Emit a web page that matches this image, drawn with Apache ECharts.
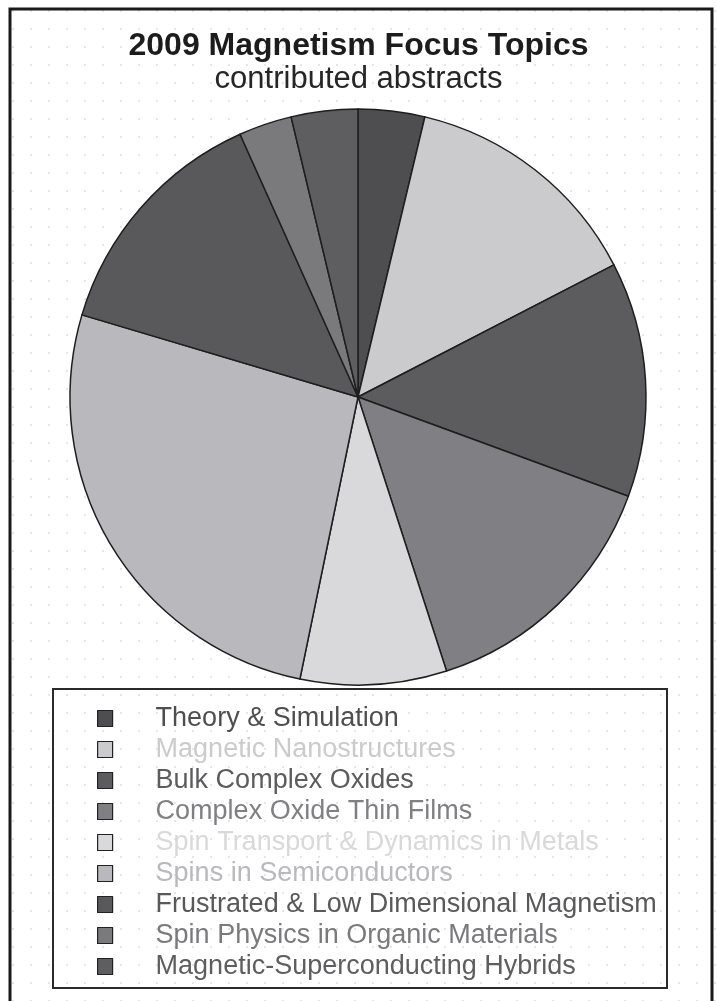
<!DOCTYPE html>
<html>
<head>
<meta charset="utf-8">
<script src="https://cdn.jsdelivr.net/npm/echarts@6/dist/echarts.min.js"></script>
<style>
  html, body { margin: 0; padding: 0; background: #ffffff; }
  #chart { width: 717px; height: 1001px;
    background-image: radial-gradient(circle, #e6e6e6 0.8px, transparent 1.2px);
    background-size: 18px 18px; background-position: 4px 2px; }
</style>
</head>
<body>
<div id="chart"></div>
<script>
const titleText = '2009 Magnetism Focus Topics';
const subtitleText = 'contributed abstracts';
const categories = [
  'Theory & Simulation',
  'Magnetic Nanostructures',
  'Bulk Complex Oxides',
  'Complex Oxide Thin Films',
  'Spin Transport & Dynamics in Metals',
  'Spins in Semiconductors',
  'Frustrated & Low Dimensional Magnetism',
  'Spin Physics in Organic Materials',
  'Magnetic-Superconducting Hybrids'
];
const values = [15, 55, 53, 58, 33, 106, 55, 12, 15];
const colors = ['#4e4e50', '#cbcbcd', '#5c5c5e', '#808084', '#d9d9db', '#b9b9bd', '#59595b', '#7a7a7d', '#5e5e60'];

const chart = echarts.init(document.getElementById('chart'), null, { renderer: 'canvas' });
const FONT = '"Liberation Sans", Arial, Helvetica, sans-serif';

const option = {
  backgroundColor: 'transparent',
  animation: false,
  color: colors,
  title: {
    text: titleText,
    subtext: subtitleText,
    left: 'center',
    top: 30,
    padding: 0,
    itemGap: 2,
    textStyle: { fontFamily: FONT, fontSize: 32, fontWeight: 'bold', color: '#1c1c1c' },
    subtextStyle: { fontFamily: FONT, fontSize: 31, color: '#262626' }
  },
  legend: {
    orient: 'vertical',
    left: 97,
    top: 705,
    height: 320,
    padding: 0,
    itemWidth: 15,
    itemHeight: 16,
    itemGap: 4,
    icon: 'rect',
    selectedMode: false,
    itemStyle: { borderColor: '#222222', borderWidth: 1.2 },
    textStyle: { fontFamily: FONT, fontSize: 27, lineHeight: 24, padding: [0, 0, 0, 38] },
    data: categories.map((c, i) => ({ name: c, textStyle: { color: colors[i] } }))
  },
  graphic: [
    { type: 'rect', shape: { x: 10, y: 9, width: 702, height: 1010 },
      style: { fill: 'none', stroke: '#1a1a1a', lineWidth: 3 }, silent: true, z: 100 },
    { type: 'rect', shape: { x: 53, y: 689, width: 614, height: 299 },
      style: { fill: 'none', stroke: '#2a2a2a', lineWidth: 2 }, silent: true, z: 100 }
  ],
  series: [{
    type: 'pie',
    center: [358, 397],
    radius: [0, 288],
    startAngle: 90,
    clockwise: true,
    label: { show: false },
    labelLine: { show: false },
    emphasis: { disabled: true },
    itemStyle: { borderColor: '#1e1e1e', borderWidth: 1.5 },
    data: categories.map((c, i) => ({ name: c, value: values[i] }))
  }]
};
chart.setOption(option);
</script>
</body>
</html>
